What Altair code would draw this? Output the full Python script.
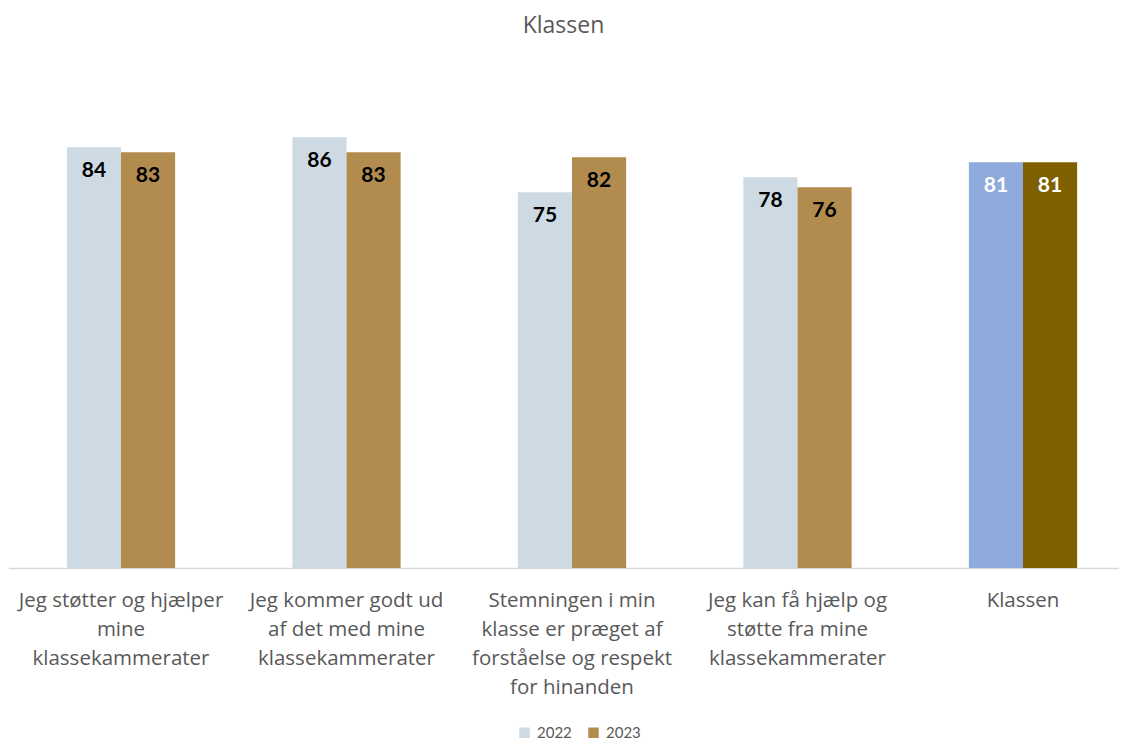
import altair as alt
import pandas as pd

categories = [
    "Jeg støtter og hjælper|mine|klassekammerater",
    "Jeg kommer godt ud|af det med mine|klassekammerater",
    "Stemningen i min|klasse er præget af|forståelse og respekt|for hinanden",
    "Jeg kan få hjælp og|støtte fra mine|klassekammerater",
    "Klassen",
]
values_2022 = [84, 86, 75, 78, 81]
values_2023 = [83, 83, 82, 76, 81]
years = ["2022", "2023"]

rows = []
for i, c in enumerate(categories):
    total = c == "Klassen"
    for y, v in zip(years, [values_2022[i], values_2023[i]]):
        rows.append({
            "cat": c,
            "year": y,
            "value": v,
            "ckey": y + ("K" if total else ""),
            "tcol": "w" if total else "b",
        })
df = pd.DataFrame(rows)

FONT = "Lato"
AFONT = "Open Sans"

x = alt.X("cat:N", sort=categories, title=None,
          scale=alt.Scale(paddingInner=0.52, paddingOuter=0.26, range=[0.25, 1127.75]),
          axis=alt.Axis(labelExpr="split(datum.label, '|')", labelAngle=0,
                        labelFont=AFONT, labelFontSize=20.5, labelColor="#595959",
                        labelLineHeight=29, labelPadding=22, ticks=False,
                        domainColor="#D9D9D9", domainWidth=1.5, labelLimit=0))
xo = alt.XOffset("year:N", sort=years)
y = alt.Y("value:Q", scale=alt.Scale(domain=[0, 100]), axis=None)

bars = alt.Chart(df).mark_bar().encode(
    x=x, xOffset=xo, y=y,
    color=alt.Color("ckey:N",
                    scale=alt.Scale(domain=["2022", "2023", "2022K", "2023K"],
                                    range=["#CDDAE4", "#B28C4E", "#8FAADC", "#7F6000"]),
                    legend=alt.Legend(title=None, values=["2022", "2023"], orient="none",
                                      direction="horizontal", legendX=509, legendY=658,
                                      symbolType="square", symbolSize=110,
                                      symbolStrokeWidth=0, labelFont=FONT,
                                      labelFontSize=15, labelColor="#595959",
                                      columnPadding=14, labelOffset=5)),
)

labels = alt.Chart(df).mark_text(font=FONT, fontSize=21, fontWeight="bold",
                                 baseline="middle", dy=24).encode(
    x=x, xOffset=xo, y=y,
    text=alt.Text("value:Q"),
    color=alt.Color("tcol:N", scale=alt.Scale(domain=["b", "w"], range=["#000000", "#FFFFFF"]),
                    legend=None),
)

chart = alt.layer(bars, labels).resolve_scale(color="independent").properties(
    width=1111, height=501,
    padding={"left": 0, "right": 0, "top": 59, "bottom": 172},
    autosize=alt.AutoSizeParams(type="none"),
    title=alt.TitleParams("Klassen", font=AFONT, fontSize=23, fontWeight="normal",
                          color="#595959", offset=29),
).configure_view(stroke=None)

chart.save("out.html", embed_options={"renderer": "svg", "actions": False})
